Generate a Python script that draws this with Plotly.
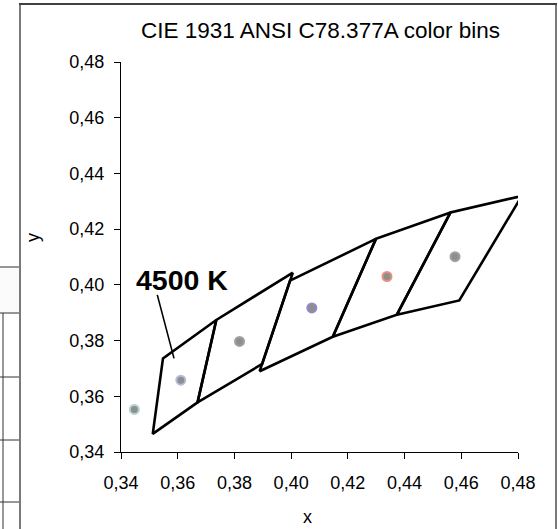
import plotly.graph_objects as go

# ---- data ----
bins = ["2700 K", "3000 K", "3500 K", "4000 K", "4500 K"]
quad_x = [
    [0.4813, 0.4562, 0.4373, 0.4593, 0.4813],
    [0.4562, 0.4299, 0.4147, 0.4373, 0.4562],
    [0.4299, 0.3996, 0.3889, 0.4147, 0.4299],
    [0.4006, 0.3736, 0.3670, 0.3898, 0.4006],
    [0.3736, 0.3548, 0.3512, 0.3670, 0.3736],
]
quad_y = [
    [0.4319, 0.4260, 0.3893, 0.3944, 0.4319],
    [0.4260, 0.4165, 0.3814, 0.3893, 0.4260],
    [0.4165, 0.4015, 0.3690, 0.3814, 0.4165],
    [0.4044, 0.3874, 0.3578, 0.3716, 0.4044],
    [0.3874, 0.3736, 0.3465, 0.3578, 0.3874],
]
center_names = ["2700 K", "3000 K", "3500 K", "4000 K", "4500 K", "5000 K"]
center_x = [0.4578, 0.4338, 0.4073, 0.3818, 0.3611, 0.3447]
center_y = [0.4101, 0.4030, 0.3917, 0.3797, 0.3658, 0.3553]
center_edge = ["#a0a0a0", "#e8907e", "#9488c8", "#a0a0a0", "#b4bedc", "#b0d4d0"]

tick_vals = [0.34, 0.36, 0.38, 0.40, 0.42, 0.44, 0.46, 0.48]

label_text = "4500 K"
label_pos = (0.3614, 0.4017)
leader_start = (0.3528, 0.3964)
leader_end = (0.3587, 0.3736)

FONT = "Liberation Sans, Arial, sans-serif"

W, H = 558, 529
L, R, T, B = 121, 40, 62, 77
PW, PH = W - L - R, H - T - B


def px(xp):
    return (xp - L) / PW


def py(yp):
    return (H - B - yp) / PH


fig = go.Figure()
for name, xs, ys in zip(bins, quad_x, quad_y):
    fig.add_trace(go.Scatter(x=xs, y=ys, mode="lines", name=name,
                             line=dict(color="black", width=2.6),
                             hoverinfo="skip"))
fig.add_trace(go.Scatter(x=center_x, y=center_y, mode="markers", text=center_names,
                         marker=dict(size=9, color="#8e8e8e",
                                     line=dict(color=center_edge, width=2))))

shapes = []
# leader line for label
shapes.append(dict(type="line", xref="x", yref="y",
                   x0=leader_start[0], y0=leader_start[1],
                   x1=leader_end[0], y1=leader_end[1],
                   line=dict(color="black", width=1.6)))
# left stub of neighbouring table
shapes.append(dict(type="rect", xref="paper", yref="paper", x0=px(0), x1=px(20),
                   y0=py(313), y1=py(267), fillcolor="#fbfbfb", line=dict(width=0),
                   layer="below"))
for yy in [267, 313, 377, 440, 502]:
    shapes.append(dict(type="line", xref="paper", yref="paper", x0=px(0), x1=px(20),
                       y0=py(yy), y1=py(yy), line=dict(color="#303030", width=1)))
shapes.append(dict(type="line", xref="paper", yref="paper", x0=px(3), x1=px(3),
                   y0=py(313), y1=py(535), line=dict(color="#303030", width=1)))
# outer frame
shapes.append(dict(type="line", xref="paper", yref="paper", x0=px(20), x1=px(20),
                   y0=py(4), y1=py(535), line=dict(color="#7a7a7a", width=2)))
shapes.append(dict(type="line", xref="paper", yref="paper", x0=px(556), x1=px(556),
                   y0=py(4), y1=py(535), line=dict(color="#7a7a7a", width=2)))
shapes.append(dict(type="line", xref="paper", yref="paper", x0=px(19), x1=px(557),
                   y0=py(4), y1=py(4), line=dict(color="#404040", width=2)))

annotations = [
    dict(text="CIE 1931 ANSI C78.377A color bins", xref="paper", yref="paper",
         x=px(320), y=py(30), showarrow=False, xanchor="center", yanchor="middle",
         font=dict(family=FONT, size=22.5, color="black")),
    dict(text="x", xref="paper", yref="paper", x=px(307), y=py(517), showarrow=False,
         xanchor="center", yanchor="middle", font=dict(family=FONT, size=18, color="black")),
    dict(text="y", xref="paper", yref="paper", x=px(33), y=py(238), showarrow=False,
         textangle=-90, xanchor="center", yanchor="middle",
         font=dict(family=FONT, size=18, color="black")),
    dict(text="<b>%s</b>" % label_text, xref="x", yref="y", x=label_pos[0], y=label_pos[1],
         showarrow=False, xanchor="center", yanchor="middle",
         font=dict(family=FONT, size=28.5, color="black")),
]

axis_common = dict(range=[0.34, 0.48], tickvals=tick_vals, tickformat=".2f",
                   showgrid=False, zeroline=False, showline=True, linecolor="black",
                   linewidth=1, ticks="outside", ticklen=6, tickcolor="black",
                   tickfont=dict(family=FONT, size=18, color="black"), fixedrange=True)

fig.update_layout(
    width=W, height=H, margin=dict(l=L, r=R, t=T, b=B),
    paper_bgcolor="white", plot_bgcolor="white", showlegend=False,
    separators=", ",
    xaxis=dict(**axis_common, ticklabelstandoff=8),
    yaxis=dict(**axis_common, ticklabelstandoff=6),
    shapes=shapes, annotations=annotations,
)

fig.write_html("out.html")
